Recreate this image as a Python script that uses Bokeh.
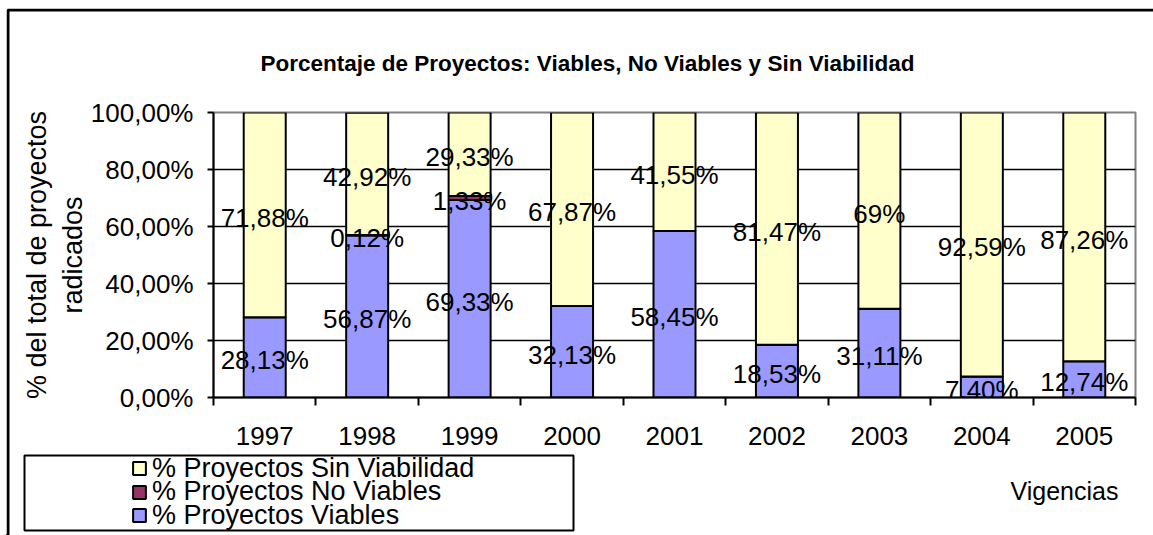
from bokeh.plotting import figure
from bokeh.layouts import column
from bokeh.models import (ColumnDataSource, Range1d, FixedTicker, Label, BoxAnnotation,
                          Legend, LegendItem)
from bokeh.core.properties import value
from bokeh.embed import file_html
from bokeh.resources import INLINE

# ---- data ----
years = ["1997", "1998", "1999", "2000", "2001", "2002", "2003", "2004", "2005"]
viables = [28.13, 56.87, 69.33, 32.13, 58.45, 18.53, 31.11, 7.40, 12.74]
no_viables = [0, 0.12, 1.33, 0, 0, 0, 0, 0, 0]
sin_viabilidad = [71.88, 42.92, 29.33, 67.87, 41.55, 81.47, 69, 92.59, 87.26]
y_ticks = [0, 20, 40, 60, 80, 100]
y_tick_labels = ["0,00%", "20,00%", "40,00%", "60,00%", "80,00%", "100,00%"]
series_names = ["% Proyectos Viables", "% Proyectos No Viables", "% Proyectos Sin Viabilidad"]
series_colors = ["#9999FF", "#993366", "#FFFFCC"]
title_text = "Porcentaje de Proyectos: Viables, No Viables y Sin Viabilidad"
x_title = "Vigencias"
y_title = "% del total de proyectos\nradicados"

FONT = "Liberation Sans"
W, H = 1147, 527
n = len(years)
xc = [i + 0.5 for i in range(n)]
series_values = [viables, no_viables, sin_viabilidad]


def fmt(v):
    if float(v).is_integer():
        return f"{int(v)}%"
    return f"{v:.2f}".replace(".", ",") + "%"


# ---------------- main chart ----------------
p = figure(width=W, height=H, x_range=Range1d(0, n), y_range=Range1d(0, 100),
           title=None, output_backend="svg", toolbar_location=None,
           min_border_left=207, min_border_right=18, min_border_top=104, min_border_bottom=138,
           margin=(8, 0, 0, 6))

sources = []
bottom = [0.0] * n
lab_x, lab_y, lab_t = [], [], []
for vals, color in zip(series_values, series_colors):
    top = [b + v for b, v in zip(bottom, vals)]
    src = ColumnDataSource(dict(x=xc, bottom=bottom, top=top))
    sources.append(src)
    p.vbar(x="x", width=0.41, bottom="bottom", top="top", source=src,
           fill_color=color, line_color="black", line_width=2)
    for xi, b, v in zip(xc, bottom, vals):
        if v > 0:
            lab_x.append(xi)
            lab_y.append(b + v / 2)
            lab_t.append(fmt(v))
    bottom = top

p.text(x=lab_x, y=lab_y, text=lab_t, text_align="center", text_baseline="middle",
       y_offset=3, text_font=value(FONT), text_font_size="26px", text_color="black")

p.yaxis.ticker = FixedTicker(ticks=y_ticks)
p.yaxis.major_label_overrides = dict(zip(y_ticks, y_tick_labels))
p.yaxis.axis_label = y_title
p.yaxis.axis_label_text_font = FONT
p.yaxis.axis_label_text_font_size = "27px"
p.yaxis.axis_label_text_font_style = "normal"
p.yaxis.axis_label_text_color = "black"
p.yaxis.axis_label_standoff = 0
p.yaxis.major_tick_out = 6
p.yaxis.major_tick_in = 0
p.yaxis.minor_tick_out = 0
p.yaxis.major_label_standoff = 14

p.xaxis.ticker = FixedTicker(ticks=xc, minor_ticks=list(range(n + 1)))
p.xaxis.major_label_overrides = dict(zip(xc, years))
p.xaxis.major_tick_out = 0
p.xaxis.major_tick_in = 0
p.xaxis.minor_tick_out = 8
p.xaxis.minor_tick_in = 0
p.xaxis.major_label_standoff = 21

for ax in (p.xaxis, p.yaxis):
    ax.major_label_text_font = FONT
    ax.major_label_text_font_size = "26px"
    ax.major_label_text_color = "black"
    ax.axis_line_color = "black"
    ax.axis_line_width = 2
    ax.major_tick_line_color = "black"
    ax.major_tick_line_width = 2
    ax.minor_tick_line_color = "black"
    ax.minor_tick_line_width = 2

p.xgrid.visible = False
p.ygrid.ticker = FixedTicker(ticks=y_ticks)
p.ygrid.grid_line_color = "black"
p.ygrid.grid_line_width = 1.5
p.outline_line_color = "#808080"
p.outline_line_width = 2

# ---------------- overlay: chart-area texts, legend, border ----------------
# its ranges are far from the data, so its series renderers only feed the legend swatches
o = figure(width=W, height=H, x_range=Range1d(1000, 1001), y_range=Range1d(1000, 1001),
           title=None, x_axis_type=None, y_axis_type=None, output_backend="svg",
           toolbar_location=None, min_border=0)
o.background_fill_alpha = 0
o.border_fill_alpha = 0
o.outline_line_color = None
o.styles = {"position": "absolute", "left": "6px", "top": "8px"}

o.add_layout(BoxAnnotation(left=1.5, right=4000, top=1.5, bottom=4000,
                           left_units="canvas", right_units="canvas",
                           top_units="canvas", bottom_units="canvas",
                           fill_alpha=0, line_color="black", line_alpha=1, line_width=3))
o.add_layout(Label(x=581, y=54.7, x_units="canvas", y_units="canvas", text=title_text,
                   text_align="center", text_baseline="alphabetic", text_font=FONT,
                   text_font_size="22.5px", text_font_style="bold", text_color="black"))
o.add_layout(Label(x=1004, y=482.7, x_units="canvas", y_units="canvas", text=x_title,
                   text_align="left", text_baseline="alphabetic", text_font=FONT,
                   text_font_size="25px", text_color="black"))
o.add_layout(BoxAnnotation(left=18, right=567, top=447, bottom=522,
                           left_units="canvas", right_units="canvas",
                           top_units="canvas", bottom_units="canvas",
                           fill_color="white", fill_alpha=1,
                           line_color="black", line_alpha=1, line_width=2))

swatches = [o.vbar(x="x", width=0.41, bottom="bottom", top="top", source=src,
                   fill_color=c, line_color="black", line_width=2)
            for src, c in zip(sources, series_colors)]

# one single-entry legend per row, so that the rows sit as tightly as in the original
row_bottoms = [51.5, 28, 4.5]   # offset of each row's bottom from the overlay's bottom, px
for name, r, yb in zip(series_names[::-1], swatches[::-1], row_bottoms):
    lg = Legend(items=[LegendItem(label=name, renderers=[r])], location=(125, yb),
                padding=0, margin=0, spacing=0,
                border_line_color=None, background_fill_alpha=0,
                glyph_width=16, glyph_height=16, label_standoff=5, label_height=16,
                label_text_font=FONT, label_text_font_size="27px", label_text_color="black")
    o.add_layout(lg, "center")

if "frame_align" in p.properties():
    p.frame_align = False
    o.frame_align = False
    open("out.html", "w").write(file_html(column(p, o), INLINE))
else:
    open("out.html", "w").write(file_html([p, o], INLINE))
